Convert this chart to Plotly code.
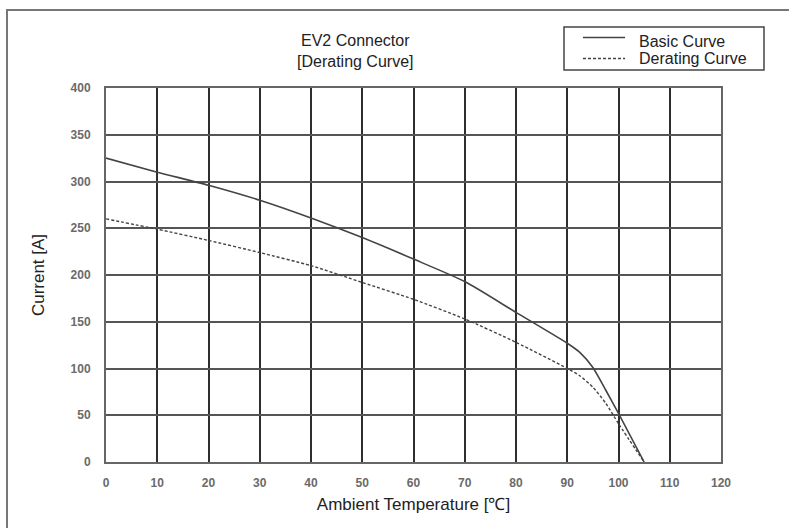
import plotly.graph_objects as go

temperature = [0, 10, 20, 30, 40, 50, 60, 70, 80, 90, 92.5, 95, 97.5, 100, 105]
basic_curve = [325, 310, 296, 280, 261, 240, 217, 193, 160, 127, 117, 101, 77, 52, 0]
derating_curve = [260, 249, 237, 224, 210, 192, 174, 153, 128, 100, 92, 80, 63, 41, 0]

series_names = ["Basic Curve", "Derating Curve"]
title_text = "EV2 Connector<br>[Derating Curve]"
x_ticks = list(range(0, 121, 10))
y_ticks = list(range(0, 401, 50))

W, H = 789, 528
L, R, T, B = 106, 68, 88, 66
pw, ph = W - L - R, H - T - B


def px(xp):
    return (xp - L) / pw


def py(yp):
    return (H - B - yp) / ph


font_main = "Liberation Sans, Arial, sans-serif"
line_color = "#444444"
styles = [dict(color=line_color, width=1.6), dict(color=line_color, width=1.4, dash="3px,2px")]

fig = go.Figure()
for name, vals, st in zip(series_names, [basic_curve, derating_curve], styles):
    fig.add_trace(go.Scatter(x=temperature, y=vals, mode="lines", name=name, showlegend=False,
                             line=dict(shape="spline", smoothing=0.6, **st)))

tickfont = dict(family=font_main, size=12, color="#6a6a6a", weight="bold")
fig.update_layout(
    width=W, height=H,
    margin=dict(l=L, r=R, t=T, b=B, pad=0),
    paper_bgcolor="white", plot_bgcolor="white",
    font=dict(family=font_main, size=13, color="#222222"),
    showlegend=False,
    xaxis=dict(range=[0, 120], tickvals=x_ticks, ticktext=[str(v) for v in x_ticks],
               showgrid=True, gridcolor="#2e2e2e", gridwidth=1.6,
               showline=True, linecolor="#666666", linewidth=2, mirror=True,
               zeroline=False, ticks="", ticklabelstandoff=9, tickfont=tickfont,
               title=dict(text="Ambient Temperature [\u2103]", standoff=9,
                          font=dict(family=font_main, size=17, color="#222222"))),
    yaxis=dict(range=[0, 400], tickvals=y_ticks, ticktext=[str(v) for v in y_ticks],
               showgrid=True, gridcolor="#555555", gridwidth=1.6,
               showline=True, linecolor="#666666", linewidth=2, mirror=True,
               zeroline=False, ticks="", ticklabelstandoff=11, tickfont=tickfont,
               title=dict(text="Current [A]", standoff=22,
                          font=dict(family=font_main, size=17, color="#222222"))),
)

# title (two lines)
fig.add_annotation(text=title_text, xref="paper", yref="paper", x=px(355), y=py(51.5),
                   xanchor="center", yanchor="middle", showarrow=False, align="center",
                   font=dict(family=font_main, size=16, color="#222222"))

# legend box
fig.add_shape(type="rect", xref="paper", yref="paper", x0=px(564), x1=px(764), y0=py(70), y1=py(27),
              line=dict(color="#444444", width=1.5), fillcolor="white")
for name, st, ly, ty in zip(series_names, styles, [37.5, 58.5], [41.5, 58.5]):
    fig.add_shape(type="line", xref="paper", yref="paper", x0=px(583), x1=px(625), y0=py(ly), y1=py(ly),
                  line=st)
    fig.add_annotation(text=name, xref="paper", yref="paper", x=px(637), y=py(ty),
                       xanchor="left", yanchor="middle", showarrow=False,
                       font=dict(family=font_main, size=16, color="#222222"))

# outer frame
fig.add_shape(type="rect", xref="paper", yref="paper",
              x0=px(7), x1=px(800), y0=py(540), y1=py(10),
              line=dict(color="#777777", width=2), layer="below")

fig.write_html("out.html", config={"displayModeBar": False},
               post_script="document.body.style.margin='0px';document.body.style.overflow='hidden';")
